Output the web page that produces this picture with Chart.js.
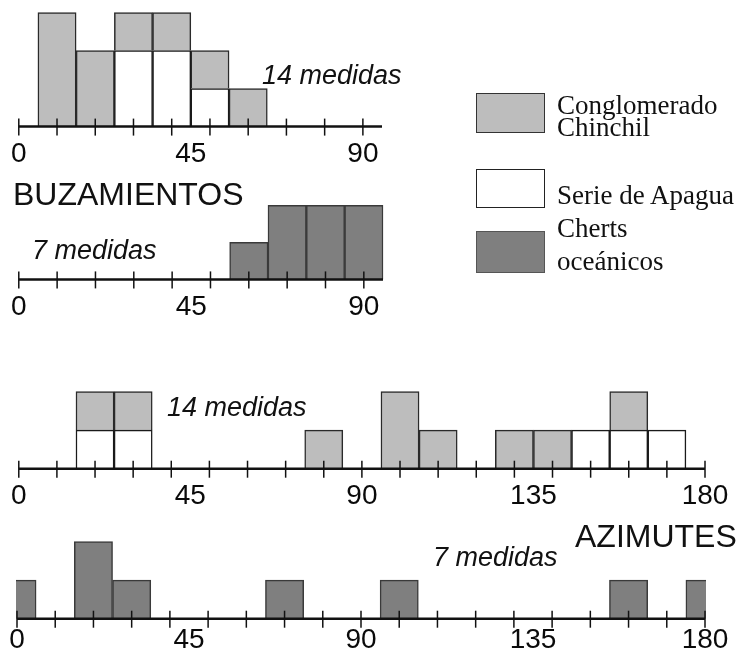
<!DOCTYPE html>
<html>
<head>
<meta charset="utf-8">
<script src="https://cdn.jsdelivr.net/npm/chart.js@4.4.1/dist/chart.umd.min.js"></script>
<style>
body { margin: 0; background: #fff; width: 740px; height: 657px; position: relative; overflow: hidden; }
canvas { position: absolute; left: 0; }
.t { position: absolute; white-space: nowrap; color: #111; font-family: "Liberation Sans", Arial, sans-serif; }
.title { font-size: 32px; line-height: 32px; }
.n { font-size: 27px; line-height: 27px; font-style: italic; }
.box { position: absolute; left: 476px; width: 69px; height: 40px; box-sizing: border-box; border: 1.5px solid #333; }
.lt { position: absolute; left: 557px; white-space: nowrap; color: #111; font-family: "Liberation Serif", "Times New Roman", serif; font-size: 27px; line-height: 27px; }
</style>
</head>
<body>
<canvas id="buzChin"></canvas>
<canvas id="buzChert"></canvas>
<canvas id="aziChin"></canvas>
<canvas id="aziChert"></canvas>

<div class="t n" style="left:262px; top:62px;">14 medidas</div>
<div class="t title" style="left:13px; top:178px;">BUZAMIENTOS</div>
<div class="t n" style="left:32px; top:237px;">7 medidas</div>
<div class="t n" style="left:167px; top:394px;">14 medidas</div>
<div class="t title" style="left:575px; top:520px;">AZIMUTES</div>
<div class="t n" style="left:433px; top:544px;">7 medidas</div>

<div class="box" style="top:93px; background:#bdbdbd;"></div>
<div class="box" style="top:169px; height:39px; background:#fff; border-color:#222;"></div>
<div class="box" style="top:231px; height:42px; background:#7f7f7f; border-color:#555;"></div>
<div class="lt" style="top:92px;">Conglomerado</div>
<div class="lt" style="top:114px;">Chinchil</div>
<div class="lt" style="top:182px;">Serie de Apagua</div>
<div class="lt" style="top:215px;">Cherts</div>
<div class="lt" style="top:248px;">oceánicos</div>

<script>
// Buzamientos: clases de 10 grados, centradas en la marca
const buzBins = [10, 20, 30, 40, 50, 60];
const buzChinchil = [3, 2, 1, 1, 1, 1];
const buzApagua = [0, 0, 2, 2, 1, 0];
const buzChertBins = [60, 70, 80, 90];
const buzCherts = [1, 2, 2, 2];
const buzTicks = [0, 10, 20, 30, 40, 50, 60, 70, 80, 90];
const buzLabels = [0, 45, 90];

// Azimutes (la clase 175-185 queda partida en los dos extremos)
const aziBins = [20, 30, 80, 100, 110, 130, 140, 150, 160, 170];
const aziChinchil = [1, 1, 1, 2, 1, 1, 1, 0, 1, 0];
const aziApagua = [1, 1, 0, 0, 0, 0, 0, 1, 1, 1];
const aziChertBins = [0, 20, 30, 70, 100, 160, 180];
const aziCherts = [1, 2, 1, 1, 1, 1, 1];
const aziTicks = [0, 10, 20, 30, 40, 50, 60, 70, 80, 90, 100, 110, 120, 130, 140, 150, 160, 170, 180];
const aziLabels = [0, 45, 90, 135, 180];

const TICK_FONT = 28;
const LIGHT = '#bdbdbd', DARK = '#7f7f7f';

function points(bins, vals) {
    return bins.map((b, i) => ({ x: b, y: vals[i] || null }));
}

function bars(label, bins, vals, color, border) {
    return {
        label: label,
        data: points(bins, vals),
        backgroundColor: color,
        borderColor: border,
        borderWidth: 1.5,
        barPercentage: 1,
        categoryPercentage: 1,
        clip: 1
    };
}

// axis line with small cross ticks every 10 degrees
function axisMarks(marks) {
    return {
        id: 'axisMarks',
        afterDatasetsDraw(chart) {
            const { ctx, chartArea: a, scales: { x, y } } = chart;
            const y0 = y.getPixelForValue(0);
            ctx.save();
            ctx.strokeStyle = '#111';
            ctx.lineWidth = 2.5;
            ctx.beginPath();
            ctx.moveTo(a.left, y0);
            ctx.lineTo(a.right, y0);
            ctx.stroke();
            ctx.lineWidth = 1.5;
            marks.forEach(v => {
                const px = x.getPixelForValue(v);
                ctx.beginPath();
                ctx.moveTo(px, y0 - 8);
                ctx.lineTo(px, y0 + 9);
                ctx.stroke();
            });
            ctx.restore();
        }
    };
}

function histogram(id, p, datasets, marks, labels) {
    const cv = document.getElementById(id);
    const axisH = TICK_FONT * 1.2 + 2 * p.pad;
    const plotH = p.ymax * p.unit;
    cv.width = 740;
    cv.height = Math.round(plotH + axisH + 4);
    cv.style.top = (p.base - plotH) + 'px';

    new Chart(cv, {
        type: 'bar',
        data: { datasets: datasets },
        options: {
            responsive: false,
            animation: false,
            devicePixelRatio: 1,
            layout: { padding: { left: 17, right: 740 - p.right, top: 0, bottom: cv.height - plotH - axisH } },
            plugins: { legend: { display: false }, tooltip: { enabled: false } },
            scales: {
                x: {
                    type: 'linear',
                    min: 0,
                    max: p.xmax,
                    offset: false,
                    stacked: true,
                    grid: { display: false, drawTicks: false },
                    border: { display: false },
                    afterBuildTicks: s => { s.ticks = labels.map(v => ({ value: v })); },
                    ticks: {
                        padding: p.pad,
                        autoSkip: false,
                        maxRotation: 0,
                        color: '#0a0a0a',
                        font: { family: 'Liberation Sans', size: TICK_FONT }
                    }
                },
                y: { display: false, stacked: true, min: 0, max: p.ymax }
            }
        },
        plugins: [axisMarks(marks)]
    });
}

histogram('buzChin', { base: 127, unit: 38, ymax: 3.2, xmax: 95, right: 382, pad: 11 }, [
    bars('Serie de Apagua', buzBins, buzApagua, '#ffffff', '#1a1a1a'),
    bars('Conglomerado Chinchil', buzBins, buzChinchil, LIGHT, '#2a2a2a')
], buzTicks, buzLabels);

histogram('buzChert', { base: 279, unit: 37, ymax: 2.2, xmax: 95, right: 383, pad: 11 }, [
    bars('Cherts oceánicos', buzChertBins, buzCherts, DARK, '#3a3a3a')
], buzTicks, buzLabels);

histogram('aziChin', { base: 469, unit: 38.5, ymax: 2.2, xmax: 180, right: 705, pad: 11 }, [
    bars('Serie de Apagua', aziBins, aziApagua, '#ffffff', '#1a1a1a'),
    bars('Conglomerado Chinchil', aziBins, aziChinchil, LIGHT, '#2a2a2a')
], aziTicks, aziLabels);

histogram('aziChert', { base: 619, unit: 38.5, ymax: 2.2, xmax: 180, right: 705, pad: 5 }, [
    bars('Cherts oceánicos', aziChertBins, aziCherts, DARK, '#3a3a3a')
], aziTicks, aziLabels);
</script>
</body>
</html>
